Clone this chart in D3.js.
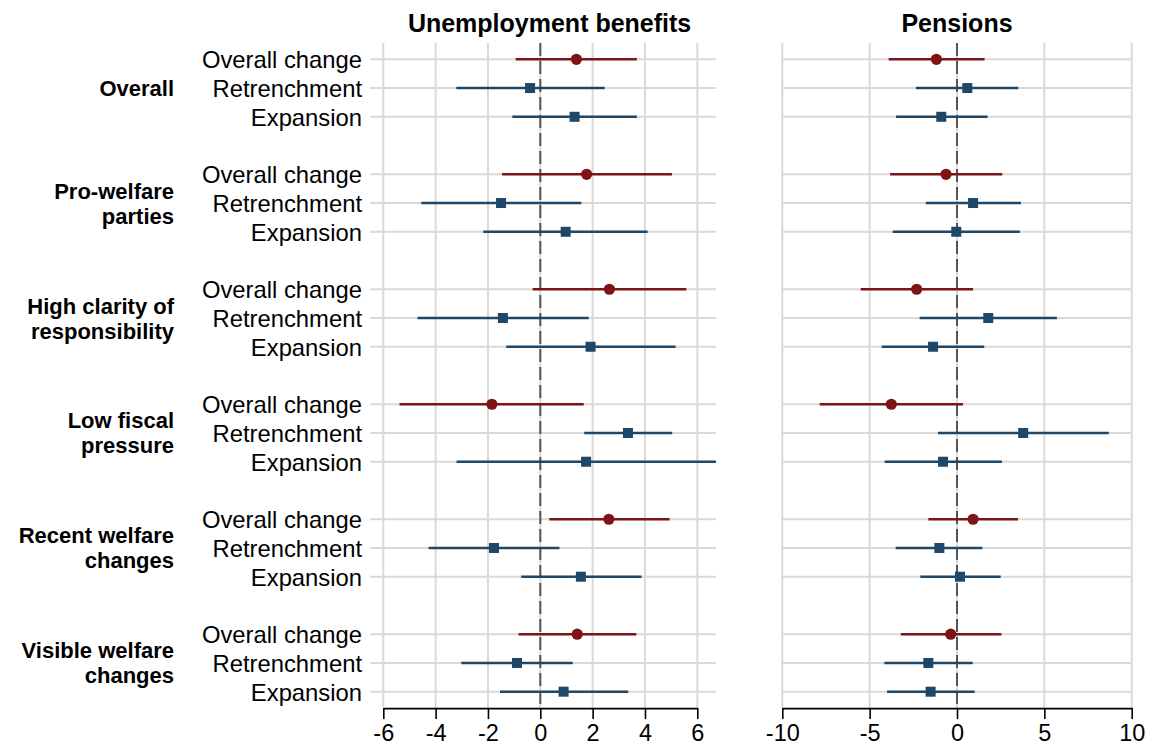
<!DOCTYPE html>
<html>
<head>
<meta charset="utf-8">
<script src="https://cdn.jsdelivr.net/npm/d3@7"></script>
<style>
  body { margin: 0; background: #fff; }
  svg { display: block; font-family: "Liberation Sans", Arial, Helvetica, sans-serif; }
</style>
</head>
<body>
<div class="chart"></div>
<script>
// categories
const groups = [
    ["Overall"],
    ["Pro-welfare", "parties"],
    ["High clarity of", "responsibility"],
    ["Low fiscal", "pressure"],
    ["Recent welfare", "changes"],
    ["Visible welfare", "changes"]
];
const estimates = ["Overall change", "Retrenchment", "Expansion"];
const panelTitles = ["Unemployment benefits", "Pensions"];

// unemployment benefits: point estimate, lower and upper bound (18 rows, group by group)
const unempEst = [1.38, -0.39, 1.31, 1.77, -1.50, 0.97, 2.64, -1.43, 1.92, -1.85, 3.35, 1.75, 2.62, -1.77, 1.55, 1.41, -0.89, 0.89];
const unempLo = [-0.94, -3.21, -1.07, -1.46, -4.55, -2.18, -0.29, -4.69, -1.30, -5.38, 1.68, -3.20, 0.34, -4.27, -0.73, -0.83, -3.02, -1.54];
const unempHi = [3.69, 2.46, 3.69, 5.03, 1.57, 4.10, 5.58, 1.85, 5.17, 1.66, 5.04, 7.00, 4.94, 0.73, 3.87, 3.67, 1.24, 3.36];

// pensions
const pensEst = [-1.18, 0.59, -0.90, -0.63, 0.92, -0.04, -2.31, 1.79, -1.37, -3.76, 3.79, -0.80, 0.92, -1.01, 0.17, -0.36, -1.64, -1.51];
const pensLo = [-3.91, -2.35, -3.49, -3.83, -1.79, -3.68, -5.51, -2.14, -4.31, -7.86, -1.09, -4.14, -1.64, -3.51, -2.10, -3.22, -4.16, -4.00];
const pensHi = [1.58, 3.51, 1.75, 2.59, 3.66, 3.60, 0.92, 5.72, 1.56, 0.34, 8.69, 2.57, 3.49, 1.45, 2.50, 2.54, 0.90, 1.01];

// tick labels
const unempTicks = [-6, -4, -2, 0, 2, 4, 6];
const pensTicks = [-10, -5, 0, 5, 10];

const width = 1156, height = 753;
const red = "#7f1417", blue = "#1f4768", grid = "#d9d9d9";

const svg = d3.select(".chart").append("svg")
    .attr("width", width)
    .attr("height", height);

// row positions: each group takes 4 slots (3 rows + gap)
const slot = i => Math.floor(i / 3) * 4 + (i % 3);
const y = d3.scaleLinear().domain([0, 22]).range([59.3, 691.7]);
const yTop = y(-0.57), yBottom = y(22.57);

const panels = [
    {
        title: panelTitles[0],
        x: d3.scaleLinear().domain([-6, 6]).range([383.3, 697.3]),
        ticks: unempTicks, est: unempEst, lo: unempLo, hi: unempHi,
        left: 370, min: -6, max: 6.71
    },
    {
        title: panelTitles[1],
        x: d3.scaleLinear().domain([-10, 10]).range([782.3, 1131.7]),
        ticks: pensTicks, est: pensEst, lo: pensLo, hi: pensHi,
        left: 782.3, min: -10, max: 10
    }
];

const rows = d3.range(18);

panels.forEach((p, pi) => {
    const g = svg.append("g");
    const x = p.x;
    const right = x(p.max);

    // clip for bars running past the panel
    g.append("clipPath").attr("id", "clip" + pi)
        .append("rect")
        .attr("x", x(p.min)).attr("y", yTop)
        .attr("width", right - x(p.min)).attr("height", yBottom - yTop);

    // vertical grid
    g.selectAll(".vgrid").data(p.ticks).enter().append("line")
        .attr("x1", d => x(d)).attr("x2", d => x(d))
        .attr("y1", yTop).attr("y2", yBottom)
        .attr("stroke", grid).attr("stroke-width", 2);

    // horizontal grid
    g.selectAll(".hgrid").data(rows).enter().append("line")
        .attr("x1", p.left).attr("x2", right)
        .attr("y1", d => y(slot(d))).attr("y2", d => y(slot(d)))
        .attr("stroke", grid).attr("stroke-width", 2);

    // zero line
    g.append("line")
        .attr("x1", x(0)).attr("x2", x(0))
        .attr("y1", yTop).attr("y2", yBottom)
        .attr("stroke", "#555").attr("stroke-width", 2)
        .attr("stroke-dasharray", "13,5");

    // axis
    const axis = d3.axisBottom(x).tickValues(p.ticks).tickSize(11).tickSizeOuter(0)
        .tickFormat(d => d < 0 ? "-" + Math.abs(d) : d);
    const ax = g.append("g").attr("transform", `translate(0,${yBottom})`).call(axis);
    ax.select(".domain").attr("stroke", "#000").attr("stroke-width", 1.6);
    ax.selectAll(".tick line").attr("stroke", "#000").attr("stroke-width", 1.6);
    ax.selectAll(".tick text")
        .attr("y", 16)
        .attr("fill", "#000")
        .style("font-size", "23.5px")
        .style("font-family", "'Liberation Sans', Arial, sans-serif");

    // title
    g.append("text")
        .attr("x", (x(p.min) + right) / 2).attr("y", 32)
        .attr("text-anchor", "middle")
        .style("font-size", "25px").style("font-weight", "bold")
        .text(p.title);

    // confidence intervals
    g.selectAll(".ci").data(rows).enter().append("line")
        .attr("clip-path", `url(#clip${pi})`)
        .attr("x1", d => x(p.lo[d])).attr("x2", d => x(p.hi[d]))
        .attr("y1", d => y(slot(d))).attr("y2", d => y(slot(d)))
        .attr("stroke", d => d % 3 === 0 ? red : blue)
        .attr("stroke-width", 2.6);

    // points
    g.selectAll(".dot").data(rows.filter(d => d % 3 === 0)).enter().append("circle")
        .attr("cx", d => x(p.est[d])).attr("cy", d => y(slot(d)))
        .attr("r", 5.6).attr("fill", red);
    g.selectAll(".sq").data(rows.filter(d => d % 3 !== 0)).enter().append("rect")
        .attr("x", d => x(p.est[d]) - 5).attr("y", d => y(slot(d)) - 5)
        .attr("width", 10).attr("height", 10).attr("fill", blue);
});

// row labels
svg.selectAll(".rowlab").data(rows).enter().append("text")
    .attr("x", 362).attr("y", d => y(slot(d)) + 9)
    .attr("text-anchor", "end")
    .style("font-size", "23.8px")
    .text(d => estimates[d % 3]);

// group labels
groups.forEach((lines, gi) => {
    const cy = y(gi * 4 + 1);
    const t = svg.append("text")
        .attr("text-anchor", "end")
        .style("font-size", "22px").style("font-weight", "bold");
    lines.forEach((s, li) => {
        t.append("tspan")
            .attr("x", 174)
            .attr("y", cy + 8 + (li - (lines.length - 1) / 2) * 25)
            .text(s);
    });
});
</script>
</body>
</html>
